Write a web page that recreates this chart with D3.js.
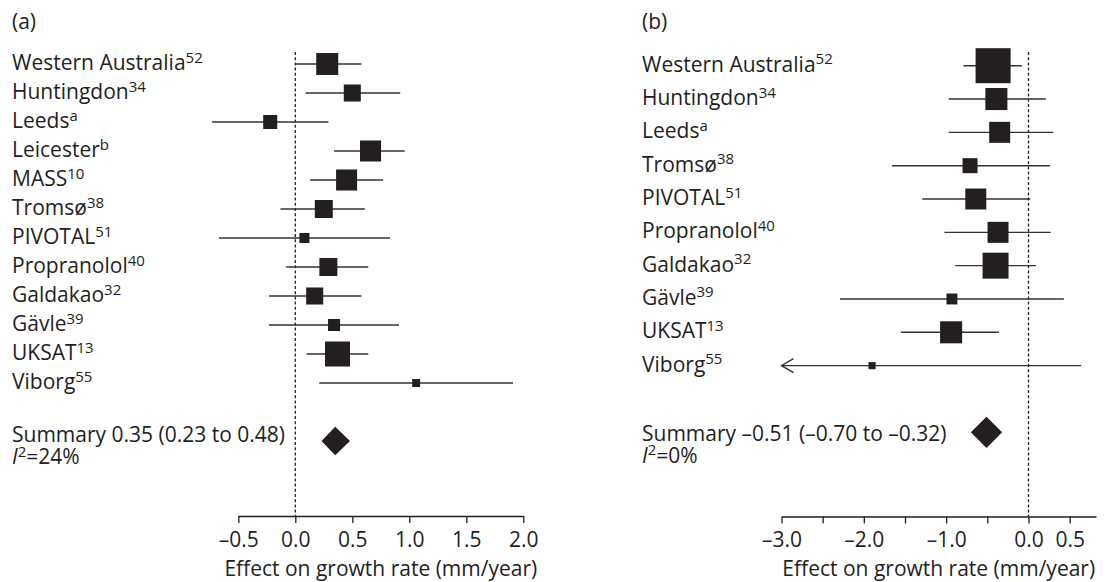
<!DOCTYPE html>
<html>
<head>
<meta charset="utf-8">
<script src="https://cdn.jsdelivr.net/npm/d3@7"></script>
<style>
  html, body { margin: 0; padding: 0; background: #fff; }
  svg { display: block; }
  text { font-family: "Open Sans", "Noto Sans", sans-serif; fill: #231f20; }
</style>
</head>
<body>
<svg id="chart" width="1110" height="582"></svg>
<script>
// ---------- DATA ----------
const leftStudies = ["Western Australia","Huntingdon","Leeds","Leicester","MASS","Tromsø","PIVOTAL","Propranolol","Galdakao","Gävle","UKSAT","Viborg"];
const leftRefs    = ["52","34","a","b","10","38","51","40","32","39","13","55"];
const leftEffect  = [0.28, 0.50, -0.22, 0.66, 0.45, 0.25, 0.08, 0.29, 0.17, 0.34, 0.37, 1.06];
const leftLower   = [0.00, 0.09, -0.73, 0.34, 0.13, -0.13, -0.67, -0.08, -0.23, -0.23, 0.10, 0.21];
const leftUpper   = [0.58, 0.92, 0.29, 0.96, 0.77, 0.61, 0.83, 0.64, 0.58, 0.91, 0.64, 1.91];
const leftWeight  = [13.0, 7.8, 5.3, 11.9, 11.9, 8.7, 2.7, 8.7, 7.8, 3.9, 16.8, 1.7];
const leftSummary = [0.35, 0.23, 0.48];
const leftI2 = "24%";
const leftTicks = [-0.5, 0, 0.5, 1.0, 1.5, 2.0];
const leftTickLabels = ["–0.5","0.0","0.5","1.0","1.5","2.0"];

const rightStudies = ["Western Australia","Huntingdon","Leeds","Tromsø","PIVOTAL","Propranolol","Galdakao","Gävle","UKSAT","Viborg"];
const rightRefs    = ["52","34","a","38","51","40","32","39","13","55"];
const rightEffect  = [-0.43, -0.39, -0.35, -0.71, -0.64, -0.37, -0.40, -0.93, -0.94, -1.90];
const rightLower   = [-0.79, -0.97, -0.97, -1.66, -1.29, -1.02, -0.89, -2.29, -1.55, -4.44];
const rightUpper   = [-0.08, 0.21, 0.30, 0.26, 0.02, 0.27, 0.09, 0.43, -0.36, 0.64];
const rightWeight  = [26.7, 10.6, 9.6, 4.9, 9.6, 9.6, 14.7, 2.6, 10.6, 1.1];
const rightSummary = [-0.51, -0.70, -0.32];
const rightI2 = "0%";
const rightTicks = [-3.0, -2.5, -2.0, -1.5, -1.0, -0.5, 0, 0.5];
const rightTickLabels = ["–3.0","","–2.0","","–1.0","","0.0","0.5"];

const fmtSummary = v => (v < 0 ? "–" : "") + Math.abs(v).toFixed(2);

// ---------- DRAW ----------
const svg = d3.select("#chart");
const ink = "#231f20";

function drawPanel(p) {
  const g = svg.append("g");
  const x = d3.scaleLinear().domain(p.domain).range(p.xRange);
  const rows = p.studies.concat(["__gap", "__summary"]);
  const y = d3.scalePoint().domain(rows).range(p.yRange);
  const size = d3.scaleSqrt().domain([0, d3.max(p.weight)]).range([0, p.maxBox]);

  // panel label
  g.append("text").attr("x", p.labelX).attr("y", 29).attr("font-size", 21).text(p.panel);

  // null line
  g.append("line")
    .attr("x1", x(0)).attr("x2", x(0))
    .attr("y1", 52).attr("y2", p.axisY)
    .attr("stroke", ink).attr("stroke-width", 1.3)
    .attr("stroke-dasharray", "3,2.2");

  // study labels
  p.studies.forEach((s, i) => {
    const t = g.append("text").attr("x", p.labelX).attr("y", y(s) + 6).attr("font-size", 21);
    t.append("tspan").text(s);
    t.append("tspan").attr("font-size", 15).attr("dy", -7.5).text(p.refs[i]);
  });

  // CI lines (clipped with an arrow only where the panel clips)
  p.studies.forEach((s, i) => {
    const clipped = p.clipLow !== undefined && p.lower[i] < p.clipLow;
    const lo = clipped ? p.clipLow : p.lower[i];
    g.append("line")
      .attr("x1", x(lo)).attr("x2", x(p.upper[i]))
      .attr("y1", y(s)).attr("y2", y(s))
      .attr("stroke", "#333").attr("stroke-width", 1.4);
    if (clipped) {
      const ax = x(lo), ay = y(s);
      g.append("path")
        .attr("d", `M${ax + 12},${ay - 7}L${ax},${ay}L${ax + 12},${ay + 7}`)
        .attr("fill", "none").attr("stroke", "#333").attr("stroke-width", 1.4);
    }
  });

  // boxes
  p.studies.forEach((s, i) => {
    const w = size(p.weight[i]);
    g.append("rect")
      .attr("x", x(p.effect[i]) - w / 2).attr("y", y(s) - w / 2)
      .attr("width", w).attr("height", w)
      .attr("fill", ink);
  });

  // summary diamond
  const sy = y("__summary");
  const [se, sl, su] = p.summary;
  const half = (x(su) - x(sl)) / 2;
  g.append("path")
    .attr("d", `M${x(sl)},${sy}L${x(se)},${sy - half}L${x(su)},${sy}L${x(se)},${sy + half}Z`)
    .attr("fill", ink);

  // summary text
  g.append("text").attr("x", p.labelX).attr("y", sy + p.sumTextDy).attr("font-size", 21)
    .text(`Summary ${fmtSummary(se)} (${fmtSummary(sl)} to ${fmtSummary(su)})`);
  const i2 = g.append("text").attr("x", p.labelX).attr("y", sy + p.sumTextDy + 22).attr("font-size", 21);
  i2.append("tspan").attr("font-style", "italic").text("I");
  i2.append("tspan").attr("font-size", 15).attr("dy", -7.5).text("2");
  i2.append("tspan").attr("dy", 7.5).text("=" + p.i2);

  // axis
  const axis = d3.axisBottom(x)
    .tickValues(p.ticks)
    .tickFormat((d, i) => p.tickLabels[i])
    .tickSize(7).tickSizeOuter(0).tickPadding(9);
  const ag = g.append("g").attr("transform", `translate(0,${p.axisY})`).call(axis);
  ag.select(".domain").attr("stroke", ink).attr("stroke-width", 1.3);
  ag.selectAll(".tick line").attr("stroke", ink).attr("stroke-width", 1.3);
  ag.selectAll(".tick text").attr("font-size", 21).attr("font-family", "Open Sans, sans-serif").attr("fill", ink);

  g.append("text")
    .attr("x", (p.xRange[0] + p.xRange[1]) / 2).attr("y", 576)
    .attr("text-anchor", "middle").attr("font-size", 21)
    .text("Effect on growth rate (mm/year)");
}

drawPanel({
  panel: "(a)", labelX: 12,
  studies: leftStudies, refs: leftRefs, effect: leftEffect, lower: leftLower, upper: leftUpper,
  weight: leftWeight, summary: leftSummary, i2: leftI2,
  ticks: leftTicks, tickLabels: leftTickLabels,
  domain: [-0.5, 2.0], xRange: [238.3, 523.3], yRange: [64, 441], maxBox: 25,
  axisY: 516, sumTextDy: 1
});

drawPanel({
  panel: "(b)", labelX: 642,
  studies: rightStudies, refs: rightRefs, effect: rightEffect, lower: rightLower, upper: rightUpper,
  weight: rightWeight, summary: rightSummary, i2: rightI2,
  ticks: rightTicks, tickLabels: rightTickLabels,
  domain: [-3.0, 0.82], xRange: [781.5, 1096], yRange: [65.7, 432.3], maxBox: 35,
  axisY: 516.5, sumTextDy: 8.5, clipLow: -3.0
});
</script>
</body>
</html>
